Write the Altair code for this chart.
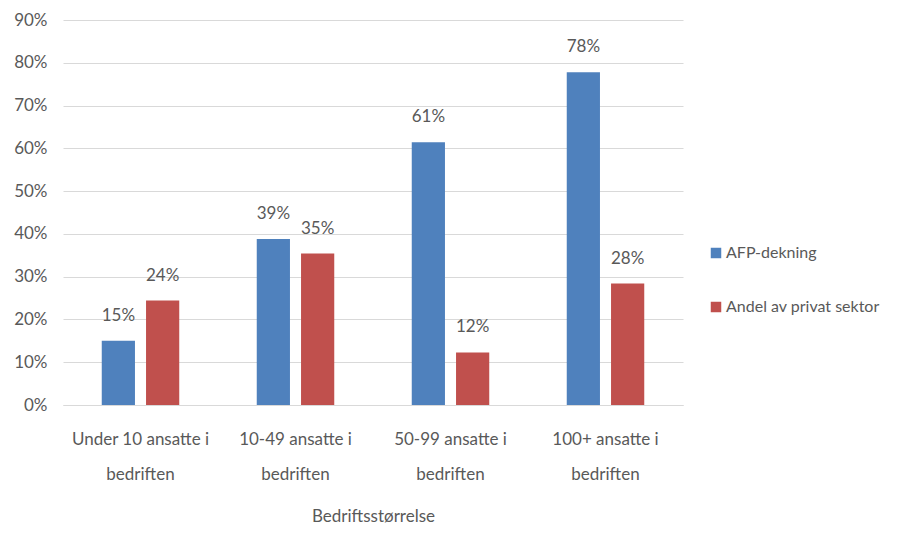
import altair as alt
import pandas as pd

categories = ["Under 10 ansatte i bedriften", "10-49 ansatte i bedriften",
              "50-99 ansatte i bedriften", "100+ ansatte i bedriften"]
series = ["AFP-dekning", "Andel av privat sektor"]
afp = [0.150, 0.388, 0.614, 0.778]
andel = [0.244, 0.354, 0.123, 0.284]
colors = ["#4F81BD", "#C0504D"]

rows = []
for i, c in enumerate(categories):
    rows.append({"cat": c, "series": series[0], "value": afp[i]})
    rows.append({"cat": c, "series": series[1], "value": andel[i]})
df = pd.DataFrame(rows)

FONT = "Lato"
GRAY = "#595959"

x = alt.X("cat:N", sort=categories,
          scale=alt.Scale(paddingInner=0.5, paddingOuter=0.25),
          axis=alt.Axis(title="Bedriftsstørrelse", labelAngle=0,
                        labelExpr="datum.label == 'Under 10 ansatte i bedriften' ? ['Under 10 ansatte i', 'bedriften'] : [replace(datum.label, ' bedriften', ''), 'bedriften']",
                        labelFont=FONT, labelFontSize=17, labelColor=GRAY,
                        labelLineHeight=35, labelPadding=26,
                        titleFont=FONT, titleFontSize=17, titleColor=GRAY,
                        titleFontWeight="normal", titlePadding=26,
                        domain=True, domainColor="#d9d9d9", ticks=False))
xo = alt.XOffset("series:N", sort=series,
                 scale=alt.Scale(paddingInner=0.25, paddingOuter=0))
y = alt.Y("value:Q", scale=alt.Scale(domain=[0, 0.9]),
          axis=alt.Axis(format=".0%", values=[i / 10 for i in range(10)],
                        title=None, labelFont=FONT, labelFontSize=17,
                        labelColor=GRAY, labelPadding=16, domain=False,
                        ticks=False, gridColor="#d9d9d9", gridWidth=1.2))
color = alt.Color("series:N", sort=series,
                  scale=alt.Scale(domain=series, range=colors),
                  legend=alt.Legend(title=None, orient="none", legendX=645,
                                    legendY=225, labelFont=FONT,
                                    labelFontSize=16, labelColor=GRAY,
                                    symbolType="square", symbolSize=110,
                                    symbolStrokeWidth=0, rowPadding=38,
                                    labelOffset=2, labelLimit=300))

base = alt.Chart(df)
bars = base.mark_bar().encode(x=x, xOffset=xo, y=y, color=color)
labels = base.mark_text(font=FONT, fontSize=17, color=GRAY,
                        baseline="alphabetic", dy=-20).encode(
    x=alt.X("cat:N", sort=categories), xOffset=alt.XOffset("series:N", sort=series),
    y="value:Q", text=alt.Text("value:Q", format=".0%"))

chart = (bars + labels).properties(
    width=620, height=385, autosize="none",
    padding={"left": 55, "top": 12, "right": 211, "bottom": 120}
).configure_view(stroke=None)

chart.save("out.html", embed_options={"renderer": "svg", "actions": False})
